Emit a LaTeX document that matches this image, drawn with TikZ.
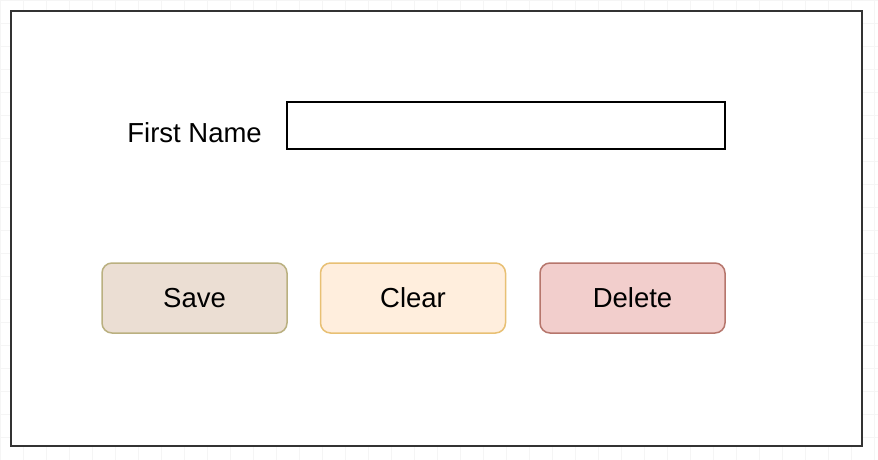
\documentclass[tikz,border=0pt]{standalone}
\usepackage{fontspec}
\setmainfont{Liberation Sans}

\definecolor{saveFill}{RGB}{235,222,211}
\definecolor{saveLine}{RGB}{186,176,128}
\definecolor{clearFill}{RGB}{255,238,221}
\definecolor{clearLine}{RGB}{232,192,116}
\definecolor{deleteFill}{RGB}{242,206,204}
\definecolor{deleteLine}{RGB}{182,118,108}

\tikzset{
    button/.style={draw,rounded corners=10pt,line width=1.5pt,
        minimum width=185pt,minimum height=70pt,inner sep=0pt,
        text height=19.5pt,text depth=0pt,
        font=\fontsize{27.5}{32}\selectfont},
    label/.style={font=\fontsize{27.5}{32}\selectfont,inner sep=0pt}
}

\begin{document}
\begin{tikzpicture}[x=1pt,y=-1pt]

    \useasboundingbox (0,0) rectangle (878,460);
    \fill[white] (0,0) rectangle (878,460);

    % faint canvas grid
    \draw[black!4,line width=0.6pt] (0,0) grid[step=23pt] (878,460);

    \coordinate (frameNW) at (11,11);
    \coordinate (frameSE) at (862,446);

    \fill[white] (frameNW) rectangle (frameSE);
    \node[draw=black!80,line width=2pt,inner sep=0pt,
        minimum width=851pt,minimum height=435pt] (frame) at (436.5,228.5) {};

    \node[draw,line width=1.5pt,inner sep=0pt,
        minimum width=438pt,minimum height=47pt] (namefield) at (506,125.5) {};
    \node[label,anchor=base east] (namelabel) at (262,142) {First Name};

    \node[button,fill=saveFill,draw=saveLine] (save) at (194.5,298) {Save};
    \node[button,fill=clearFill,draw=clearLine] (clear) at (413,298) {Clear};
    \node[button,fill=deleteFill,draw=deleteLine] (delete) at (632.5,298) {Delete};

\end{tikzpicture}
\end{document}
